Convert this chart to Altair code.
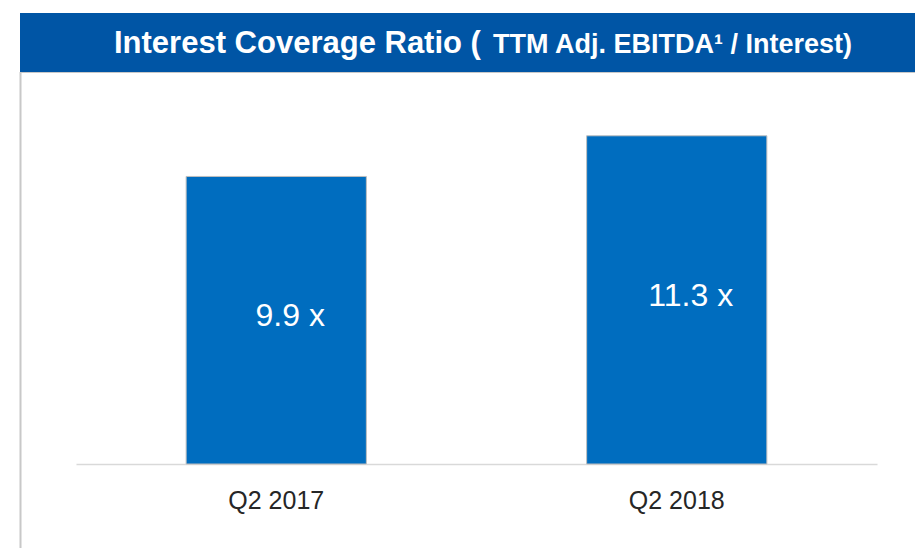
import altair as alt
import pandas as pd

# ---- data ----
categories = ["Q2 2017", "Q2 2018"]
values = [9.9, 11.3]
value_labels = ["9.9 x", "11.3 x"]
title_main = ["Interest Coverage Ratio ("]
title_sub = ["TTM Adj. EBITDA¹ / Interest)"]

df = pd.DataFrame({"period": categories, "ratio": values, "label": value_labels})

FONT = "Liberation Sans"
HEADER_BLUE = "#0055A5"
BAR_BLUE = "#006DBF"
LINE_GRAY = "#C8C8C8"

y_scale = alt.Scale(domain=[0, 15.7])
x_scale = alt.Scale(paddingInner=0.55, paddingOuter=0.275)

bars = alt.Chart(df).mark_bar(color=BAR_BLUE, stroke="#BFBFBF", strokeWidth=1).encode(
    x=alt.X("period:N", sort=categories, scale=x_scale,
            axis=alt.Axis(title=None, labelAngle=0, labelFont=FONT, labelFontSize=25,
                          labelColor="#262626", labelPadding=24, ticks=False, tickSize=0,
                          domainColor="#D9D9D9", domainWidth=1.5, grid=False)),
    y=alt.Y("ratio:Q", scale=y_scale, axis=None),
)

labels = alt.Chart(df).transform_calculate(mid="datum.ratio / 2").mark_text(
    font=FONT, fontSize=32, color="white", dx=14, dy=-4, baseline="middle", align="center"
).encode(
    x=alt.X("period:N", sort=categories, scale=x_scale),
    y=alt.Y("mid:Q", scale=y_scale, axis=None),
    text="label:N",
)

one = pd.DataFrame({"t": title_main})
two = pd.DataFrame({"t": title_sub})

header = alt.Chart(one).mark_rect(color=HEADER_BLUE).encode(
    x=alt.value(-56), x2=alt.value(839), y=alt.value(5), y2=alt.value(64)
)
header_edge = alt.Chart(one).mark_rule(color=LINE_GRAY, strokeWidth=1).encode(
    x=alt.value(-56), x2=alt.value(839), y=alt.value(64.5)
)
left_line = alt.Chart(one).mark_rule(color=LINE_GRAY, strokeWidth=2).encode(
    x=alt.value(-55.5), y=alt.value(64), y2=alt.value(540)
)
t1 = alt.Chart(one).mark_text(
    font=FONT, fontSize=31, fontWeight="bold", color="white", align="left", baseline="alphabetic"
).encode(x=alt.value(38), y=alt.value(45), text="t:N")
t2 = alt.Chart(two).mark_text(
    font=FONT, fontSize=27, fontWeight="bold", color="white", align="left", baseline="alphabetic"
).encode(x=alt.value(417), y=alt.value(45), text="t:N")

chart = alt.layer(header, header_edge, left_line, bars, labels, t1, t2).properties(
    width=801,
    height=456,
    padding={"left": 68, "top": 0, "right": 38, "bottom": 84},
    autosize=alt.AutoSizeParams(type="none"),
    background="white",
).configure_view(stroke=None)

chart.save("out.html", embed_options={"renderer": "svg", "actions": False})
